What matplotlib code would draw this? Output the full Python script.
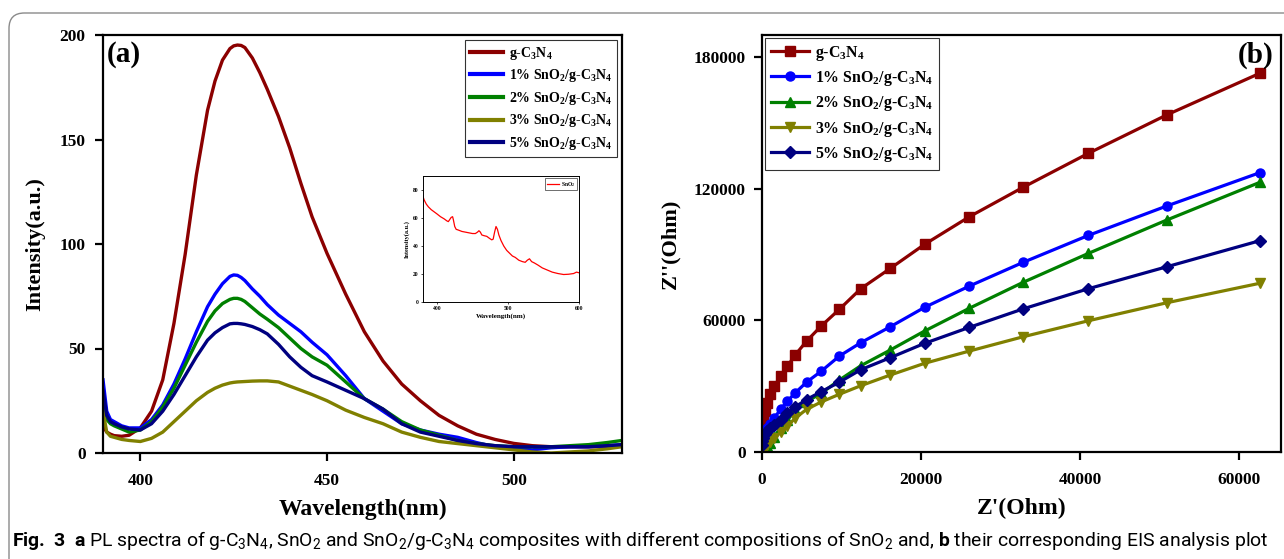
import matplotlib
matplotlib.use('Agg')
import matplotlib.pyplot as plt
from matplotlib import font_manager
from matplotlib.patches import FancyBboxPatch

# ---- (a) PL spectra ----
wl = [390, 391, 392, 393, 395, 397, 400, 403, 406, 409, 412, 415, 418, 420, 422, 424, 425, 426,
      427, 428, 430, 432, 434, 437, 440, 443, 446, 450, 455, 460, 465, 470, 475, 480, 485, 490,
      495, 500, 505, 510, 515, 520, 525, 529]
pl_gcn = [13, 10, 9, 8.3, 8, 8.5, 12, 20, 35, 62, 95, 133, 164, 178, 188, 193.5, 194.8, 195.2,
          195, 194, 189, 182, 174, 161, 146, 129, 113, 95.5, 76, 58, 44, 33, 25, 18, 13, 9,
          6.5, 4.6, 3.5, 3, 3, 3, 3, 3.5]
pl_1 = [35, 20, 16, 15, 13, 12, 12, 16, 23, 33, 45, 58, 70, 76, 81, 84.5, 85.2, 85,
        84, 82.5, 78.5, 75, 71, 66, 62, 58, 53, 47, 37, 26, 20, 14, 11, 9, 7.5, 5,
        3, 2, 1.5, 2.5, 3, 3, 3.5, 4]
pl_2 = [25, 16, 14, 13, 11.5, 10, 11, 15, 22, 31, 42, 53, 63, 68, 71.5, 73.5, 74, 74,
        73.5, 72.5, 69.5, 66.5, 64, 60, 55, 50, 46, 42, 34, 26, 21, 15, 11, 8.5, 6, 4.5,
        3.5, 3, 3, 3, 3.5, 4, 5, 6]
pl_3 = [20, 10, 8, 7.5, 6.5, 6, 5.5, 7, 10, 15, 20, 25, 29, 31, 32.5, 33.5, 33.8, 34,
        34.1, 34.2, 34.4, 34.5, 34.5, 34, 32, 30, 28, 25, 20.5, 17, 14, 10, 7.5, 5.5, 4.5, 3.5,
        2.5, 1.5, 0.5, 0, 0.5, 1, 2, 3]
pl_5 = [30, 18, 15, 14, 12.5, 11.5, 11, 14, 20, 28, 37, 46, 54, 57.5, 60, 61.8, 62, 62,
        61.8, 61.5, 60.5, 59, 57, 52, 46, 41, 37, 34, 30, 26, 21, 14, 10, 8, 6, 4.5,
        3.5, 3, 3, 3, 3, 3, 3.5, 4]

# inset: SnO2
sno2_wl = [380, 382, 385, 388, 392, 396, 400, 405, 410, 414, 416, 418, 420, 422, 423, 425, 427,
           430, 435, 440, 445, 450, 454, 457, 459, 461, 463, 466, 470, 474, 477, 479, 481, 483,
           485, 487, 490, 494, 498, 502, 506, 510, 515, 520, 524, 527, 530, 533, 537, 542, 548,
           555, 562, 570, 578, 585, 592, 596, 600]
sno2_int = [76, 73, 70, 68, 66, 64.5, 63, 61, 59.5, 58, 57.5, 59, 60.5, 61, 59, 54, 52,
            51.5, 50.5, 50, 49.5, 49, 49, 50, 51, 50, 48, 47.5, 47, 45.5, 44.5, 45, 50, 54,
            52, 48, 44, 40, 37, 35, 33, 32, 30, 29, 28.5, 30, 31, 29, 28, 26.5, 24.5,
            23, 21.5, 20.5, 19.8, 20, 20.5, 21.5, 21]

# ---- (b) EIS Nyquist ----
z_re = [20, 60, 150, 340, 670, 1000, 1550, 2350, 3200, 4200, 5600, 7450, 9730, 12430,
        16160, 20450, 26090, 32850, 41070, 50930, 62660]
zim_gcn = [8000, 11500, 14800, 18600, 22400, 26200, 30000, 34500, 39100, 44300, 50500, 57400,
           65000, 74400, 83700, 94600, 107200, 120600, 136100, 153600, 172600]
zim_1 = [2500, 4500, 6200, 8500, 10800, 12800, 15600, 19400, 23200, 27000, 31800, 36800,
         43700, 49800, 57100, 65900, 75600, 86400, 98700, 112100, 127300]
zim_2 = [0, 500, 1000, 1800, 2800, 4200, 7000, 11000, 14500, 19000, 23000, 26700,
         32800, 39300, 46500, 55100, 65500, 77300, 90500, 105700, 122900]
zim_3 = [0, 300, 800, 1800, 3200, 4500, 6500, 9000, 11800, 15500, 19400, 22800,
         26300, 30200, 35100, 40400, 46000, 52500, 59800, 68000, 76900]
zim_5 = [3000, 5000, 6500, 8000, 9500, 10800, 12300, 14800, 17900, 20600, 23900, 27500,
         31800, 37500, 43000, 49500, 56800, 65200, 74400, 84400, 96300]

labels = ['g-C$_3$N$_4$', '1% SnO$_2$/g-C$_3$N$_4$', '2% SnO$_2$/g-C$_3$N$_4$',
          '3% SnO$_2$/g-C$_3$N$_4$', '5% SnO$_2$/g-C$_3$N$_4$']
colors = ['#8b0000', '#0000ff', '#008000', '#808000', '#000080']
markers = ['s', 'o', '^', 'v', 'D']


def pick_font(names):
    for n in names:
        try:
            font_manager.findfont(n, fallback_to_default=False)
            return n
        except ValueError:
            pass
    return 'DejaVu Sans'


serif = pick_font(['Liberation Serif', 'DejaVu Serif'])
capfont = pick_font(['Liberation Sans Narrow', 'Roboto', 'Open Sans'])

plt.rcParams['font.family'] = serif
plt.rcParams['font.weight'] = 'bold'
plt.rcParams['mathtext.default'] = 'regular'
plt.rcParams['mathtext.fontset'] = 'custom'
plt.rcParams['mathtext.bf'] = capfont + ':bold'
plt.rcParams['axes.linewidth'] = 1.6
plt.rcParams['xtick.major.width'] = 1.6
plt.rcParams['ytick.major.width'] = 1.6
plt.rcParams['xtick.major.size'] = 5.5
plt.rcParams['ytick.major.size'] = 5.5

fig = plt.figure(figsize=(12.84, 5.59), dpi=100)

# rounded frame around the figure
frame = FancyBboxPatch((9 / 1284, -0.2), 1.2, 1.2 - 13 / 559,
                       boxstyle='round,pad=0,rounding_size=0.012',
                       transform=fig.transFigure, fill=False, edgecolor='#8a8a8a',
                       linewidth=1.0, mutation_aspect=1284 / 559)
fig.patches.append(frame)

# ---- panel (a) ----
ax1 = fig.add_axes([103 / 1284, 1 - 453 / 559, 519 / 1284, 418 / 559])
for y, c, lab in zip([pl_gcn, pl_1, pl_2, pl_3, pl_5], colors, labels):
    ax1.plot(wl, y, color=c, lw=2.4, label=lab, solid_joinstyle='round')
ax1.set_xlim(390, 529)
ax1.set_ylim(0, 200)
ax1.set_xticks([400, 450, 500])
ax1.set_yticks([0, 50, 100, 150, 200])
ax1.tick_params(axis='both', labelsize=12.5)
ax1.tick_params(axis='x', pad=9)
ax1.tick_params(axis='y', pad=7)
ax1.set_xlabel('Wavelength(nm)', fontsize=17, fontweight='bold', labelpad=7)
ax1.set_ylabel('Intensity(a.u.)', fontsize=16, fontweight='bold', labelpad=10)
ax1.text(0.008, 0.985, '(a)', transform=ax1.transAxes, fontsize=21, fontweight='bold',
         va='top', ha='left')
leg1 = ax1.legend(loc='upper right', fontsize=10, frameon=True, fancybox=False,
                  edgecolor='black', handlelength=2.4, handletextpad=0.4,
                  labelspacing=0.4, borderaxespad=0.35, borderpad=0.35)
leg1.get_frame().set_linewidth(0.8)
for line in leg1.get_lines():
    line.set_linewidth(3)

# inset
axi = fig.add_axes([422.7 / 1284, 1 - 302.3 / 559, 156.6 / 1284, 126.3 / 559])
axi.plot(sno2_wl, sno2_int, color='#ff0000', lw=0.9, label='SnO$_2$')
axi.set_xlim(380, 600)
axi.set_ylim(0, 90)
axi.set_xticks([400, 500, 600])
axi.set_yticks([0, 20, 40, 60, 80])
for s in axi.spines.values():
    s.set_linewidth(0.7)
axi.tick_params(labelsize=4, width=0.5, length=1.5, pad=1.5)
axi.set_xlabel('Wavelength(nm)', fontsize=5, fontweight='bold', labelpad=1)
axi.set_ylabel('Intensity(a.u.)', fontsize=4.5, fontweight='bold', labelpad=2)
legi = axi.legend(loc='upper right', fontsize=4, fancybox=False, edgecolor='black',
                  handlelength=2.2, handletextpad=0.4, borderaxespad=0.4, borderpad=0.3)
legi.get_frame().set_linewidth(0.5)

# ---- panel (b) ----
ax2 = fig.add_axes([762 / 1284, 1 - 452 / 559, 519 / 1284, 417 / 559])
for y, c, m, lab in zip([zim_gcn, zim_1, zim_2, zim_3, zim_5], colors, markers, labels):
    ms = 6.5 if m not in ('^', 'v') else 7.5
    ax2.plot(z_re, y, color=c, lw=2.3, marker=m, markersize=ms, label=lab)
ax2.set_xlim(0, 65300)
ax2.set_ylim(0, 190000)
ax2.set_xticks([0, 20000, 40000, 60000])
ax2.set_yticks([0, 60000, 120000, 180000])
ax2.tick_params(axis='both', labelsize=12.5)
ax2.tick_params(axis='x', pad=9)
ax2.tick_params(axis='y', pad=6)
ax2.set_xlabel("Z'(Ohm)", fontsize=17, fontweight='bold', labelpad=7)
ax2.set_ylabel("Z''(Ohm)", fontsize=16, fontweight='bold', labelpad=10)
ax2.text(0.985, 0.985, '(b)', transform=ax2.transAxes, fontsize=21, fontweight='bold',
         va='top', ha='right')
leg2 = ax2.legend(loc='upper left', fontsize=11.4, frameon=True, fancybox=False,
                  edgecolor='black', handlelength=2.4, handletextpad=0.4,
                  labelspacing=0.4, borderaxespad=0.2, borderpad=0.35)
leg2.get_frame().set_linewidth(0.8)

# caption
cap = (r"$\mathbf{Fig.}$ $\mathbf{3}$  $\mathbf{a}$ PL spectra of g-C$_3$N$_4$, SnO$_2$ and SnO$_2$/g-C$_3$N$_4$ "
       r"composites with different compositions of SnO$_2$ and, $\mathbf{b}$ their corresponding "
       r"EIS analysis plot")
ct = fig.text(12 / 1284, 1 - 541 / 559, cap, family=capfont, fontweight='normal',
              fontsize=15, va='center', ha='left')
fig.canvas.draw()
w = ct.get_window_extent().width
ct.set_fontsize(15 * 1261 / w)

fig.savefig('out.png', dpi=100)
